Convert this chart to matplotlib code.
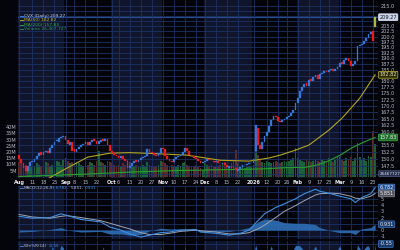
import numpy as np
import matplotlib.pyplot as plt
from matplotlib.transforms import blended_transform_factory

# ---- data (trading-day index 0 = Aug 1 2025, 161 = Mar 24 2026) ----
close = [
    # Aug
    150.0, 148.5, 147.0, 146.0, 147.5, 149.0, 149.5, 150.0, 151.0, 152.0, 151.5,
    152.5, 153.0, 152.0, 154.0, 155.0, 156.0, 156.5, 157.5, 158.0, 158.5,
    # Sep
    157.0, 155.5, 156.0, 153.0, 152.5, 153.5, 154.5, 155.0, 155.5, 156.0, 155.2,
    156.3, 157.0, 156.5, 155.5, 156.5, 157.0, 156.5, 157.2, 155.0, 153.0,
    # Oct
    152.0, 151.5, 151.0, 150.5, 151.0, 150.0, 149.5, 147.0, 147.5, 148.5, 149.5,
    149.0, 149.8, 150.5, 150.8, 151.0, 153.5, 152.5, 152.0, 151.5, 151.0, 152.0, 154.0,
    # Nov
    153.5, 151.0, 150.2, 149.5, 149.0, 150.0, 150.7, 151.0, 151.4, 152.5, 153.9,
    153.0, 151.4, 151.0, 150.3, 150.0, 149.5, 148.6, 149.0,
    # Dec
    149.5, 150.0, 149.7, 149.5, 149.0, 149.3, 148.8, 148.5, 148.6, 148.0, 147.3,
    147.5, 147.0, 146.8, 146.3, 146.5, 147.3, 147.8, 148.0, 148.3, 148.5, 148.6,
    # Jan
    150.0, 162.5, 155.0, 153.5, 156.0, 158.5, 160.0, 162.0, 164.5, 166.0, 165.5,
    164.0, 163.5, 164.5, 165.0, 165.5, 166.0, 167.0, 168.5, 171.0,
    # Feb
    173.0, 176.0, 177.5, 179.0, 178.0, 180.5, 180.0, 182.0, 182.7, 181.0, 183.0,
    183.6, 184.5, 184.0, 185.0, 185.5, 184.5, 185.5, 186.0,
    # Mar
    188.0, 187.5, 189.5, 190.0, 189.0, 186.6, 187.5, 189.0, 195.5, 196.0, 196.5,
    198.0, 199.5, 201.0, 202.0, 198.0, 209.27,
]
open_ = [
    151.5, 150.0, 148.5, 147.5, 146.0, 147.5, 149.0, 149.0, 150.0, 151.0, 152.5,
    151.5, 152.5, 153.0, 152.0, 154.0, 155.0, 156.5, 156.0, 157.5, 158.0,
    158.5, 157.0, 155.0, 156.0, 153.5, 152.5, 153.5, 154.5, 155.0, 155.5, 156.2,
    155.2, 156.3, 157.2, 156.5, 155.5, 156.3, 157.2, 156.5, 157.2, 155.0,
    153.0, 152.0, 151.5, 151.0, 150.5, 151.0, 150.0, 149.5, 147.0, 147.5, 148.5,
    149.8, 149.0, 149.8, 150.5, 150.8, 151.0, 153.5, 152.5, 152.0, 151.5, 151.0, 152.0,
    154.0, 153.5, 151.0, 150.2, 149.5, 149.0, 150.0, 150.7, 151.0, 151.4, 152.5,
    153.9, 153.0, 151.4, 151.0, 150.3, 150.0, 149.5, 148.6,
    149.0, 149.5, 150.0, 149.7, 149.5, 149.0, 149.3, 148.8, 148.2, 148.6, 148.0,
    147.0, 147.5, 147.2, 146.8, 146.0, 146.5, 147.3, 147.8, 148.0, 148.2, 148.5,
    148.6, 153.0, 161.5, 155.0, 153.5, 156.0, 158.5, 160.0, 162.0, 164.5, 166.0,
    165.5, 164.0, 163.5, 164.5, 165.0, 165.5, 166.0, 167.0, 168.5,
    171.0, 173.0, 176.0, 177.5, 179.5, 178.0, 181.0, 180.0, 182.0, 182.7, 181.0,
    183.0, 183.6, 184.5, 184.0, 185.0, 185.5, 184.5, 185.5,
    186.0, 188.5, 187.5, 189.5, 190.0, 189.0, 186.6, 187.5, 189.0, 195.5, 196.0,
    196.5, 198.0, 199.5, 201.0, 202.5, 204.5,
]
volume_m = [
    12, 14, 11, 10, 9, 10, 8, 9, 11, 10, 9, 10, 12, 11, 9, 10, 11, 13, 12, 10, 14,
    15, 13, 11, 12, 16, 12, 11, 10, 9, 11, 10, 12, 11, 10, 13, 21, 12, 11, 10, 13, 12,
    11, 10, 9, 10, 9, 11, 10, 14, 12, 10, 9, 10, 9, 8, 10, 9, 12, 10, 9, 8, 9, 10, 13,
    12, 11, 10, 9, 10, 9, 8, 10, 9, 11, 12, 10, 9, 8, 9, 10, 8, 7, 6,
    11, 10, 9, 10, 9, 8, 9, 10, 11, 12, 10, 9, 11, 13, 22, 11, 9, 8, 7, 8, 9, 8,
    10, 24, 18, 14, 12, 11, 13, 12, 11, 12, 13, 12, 11, 12, 13, 12, 13, 14, 15, 23,
    15, 14, 13, 12, 14, 13, 12, 13, 14, 13, 12, 14, 13, 12, 15, 13, 12, 14, 16,
    16, 14, 13, 15, 14, 16, 13, 15, 27, 16, 14, 15, 13, 17, 16, 37, 26.47,
]

ma50_idx = [0, 8, 20, 31, 41, 50, 60, 76, 91, 104, 113, 118, 125, 131, 140, 146, 154, 161]
ma50 = [139.0, 141.1, 146.2, 150.7, 152.1, 152.3, 152.0, 151.4, 149.6, 149.3, 150.4,
        151.4, 153.2, 155.0, 160.5, 165.1, 173.0, 182.82]
ma200_idx = [0, 30, 50, 70, 90, 110, 120, 130, 135, 140, 145, 150, 155, 161]
ma200 = [144.0, 144.8, 145.5, 146.0, 146.3, 146.6, 147.0, 147.2, 148.0, 149.4, 151.3,
         153.8, 155.8, 157.83]

macd_idx = [0, 6, 14, 19, 22, 28, 37, 41, 46, 50, 55, 59, 64, 68, 73, 80, 82, 89, 95,
            100, 104, 108, 111, 116, 120, 125, 129, 134, 136, 141, 145, 150, 152, 155, 159, 161]
macd = [2.2, 1.9, 2.0, 2.6, 2.3, 1.7, 1.3, 0.5, 0.0, -0.6, -1.1, -0.8, -0.4, -0.3, 0.0,
        0.1, -0.3, -0.5, -0.8, -0.5, 0.0, 1.5, 2.6, 3.6, 4.2, 5.0, 5.8, 6.5, 6.2, 5.8,
        5.4, 5.0, 4.4, 5.2, 5.8, 6.782]
signal = [2.5, 2.1, 1.9, 2.2, 2.3, 2.0, 1.5, 1.1, 0.6, 0.2, -0.4, -0.7, -0.7, -0.5, -0.2,
          0.0, -0.1, -0.3, -0.6, -0.6, -0.4, 0.2, 0.8, 2.0, 3.0, 3.9, 4.7, 5.6, 5.8, 5.9,
          5.8, 5.4, 5.1, 5.0, 5.4, 5.851]
hist = [-0.3, -0.2, 0.1, 0.4, 0.0, -0.3, -0.2, -0.6, -0.6, -0.8, -0.7, -0.1, 0.3, 0.2,
        0.2, 0.1, -0.2, -0.2, -0.2, 0.1, 0.4, 1.3, 1.8, 1.6, 1.2, 1.1, 1.1, 0.9, 0.4,
        -0.1, -0.4, -0.4, -0.7, 0.2, 0.4, 0.931]

wr_idx = [0, 13, 15, 17, 19, 20, 22, 36, 38, 40, 62, 64, 66, 73, 75, 77, 105, 107, 109,
          112, 114, 116, 123, 125, 127, 129, 132, 134, 136, 143, 145, 147, 152, 153, 155,
          157, 158, 160, 161]
wr = [-60, -40, -5, -30, -3, -8, -50, -40, -6, -45, -50, -7, -50, -40, -8, -45, -40,
      -2, -40, -30, -4, -35, -20, -3, -4, -15, -20, -4, -30, -20, -3, -35, -30, -2, -15,
      -5, -4, -30, -0.55]

tick_idx = [0, 6, 11, 16, 21, 25, 30, 35, 42, 45, 50, 55, 60, 65, 70, 75, 80, 84, 89, 94,
            99, 106, 112, 117, 121, 126, 131, 136, 140, 145, 150, 155, 160]
tick_lbl = ['Aug', '11', '18', '25', 'Sep', '8', '15', '22', 'Oct', '6', '13', '20', '27',
            'Nov', '10', '17', '24', 'Dec', '8', '15', '22', '2026', '12', '20', '26',
            'Feb', '9', '17', '23', 'Mar', '9', '16', '23']
months = ['Aug', 'Sep', 'Oct', 'Nov', 'Dec', 'Jan', 'Feb', 'Mar']
month_start = [0, 21, 42, 65, 84, 106, 126, 145]

# ---- layout ----
BG = '#04050a'
NAVY = '#10152c'
GRID = '#1b3163'
TXT = '#b8bcc8'
W, H = 400, 250


def box(x0, y0, x1, y1):
    return [x0 / W, 1 - y1 / H, (x1 - x0) / W, (y1 - y0) / H]


fig = plt.figure(figsize=(4, 2.5), dpi=100)
fig.patch.set_facecolor(BG)
renderer = fig.canvas.get_renderer()

axv = fig.add_axes(box(18, 0, 378, 178))
ax = fig.add_axes(box(18, 0, 378, 178), sharex=axv)
axm = fig.add_axes(box(18, 186, 378, 239), sharex=axv)
axw = fig.add_axes(box(18, 241, 378, 300), sharex=axv)

x = np.arange(len(close))
xlim = (-0.5, 162.3)
bounds = month_start + [len(close)]

for a in (axv, axm, axw):
    a.set_facecolor(BG)
    for k in range(len(months)):
        if k % 2 == 0:
            a.axvspan(bounds[k] - 0.5, bounds[k + 1] - 0.5, color=NAVY, lw=0, zorder=0)
ax.set_facecolor('none')

for a in (axv, ax, axm, axw):
    for s in a.spines.values():
        s.set_visible(False)
    a.set_xlim(*xlim)
    a.tick_params(length=0)

# volume
vcol = ['#1d6a3c' if c >= o else '#6a2d2d' for o, c in zip(open_, close)]
axv.bar(x, volume_m, width=0.8, color=vcol, alpha=0.9, zorder=2)
axv.set_ylim(-0.8, 141.6)
axv.set_yticks(range(5, 45, 5))
axv.set_yticklabels([f'{v}M' for v in range(5, 45, 5)])
axv.tick_params(axis='y', labelsize=3.6, colors=TXT, pad=1)
axv.tick_params(axis='x', labelbottom=False)

# price
ax.set_yscale('log')
ax.set_ylim(143.5, 217.9)
ax.yaxis.tick_right()
pt = np.arange(145.0, 217.5, 2.5)
hidden = {145.0, 157.5, 182.5, 207.5, 210.0, 212.5}
ax.set_yticks(pt)
ax.set_yticklabels(['' if p in hidden else f'{p:.1f}' for p in pt])
ax.yaxis.set_minor_locator(plt.NullLocator())
ax.tick_params(axis='y', labelsize=3.6, colors=TXT, pad=2)
ax.grid(True, color=GRID, lw=0.6, zorder=1)
ax.axhline(close[-1], color='#2d4d92', lw=0.8, zorder=1)

ccol = ['#3577d8' if c >= o else '#f01818' for o, c in zip(open_, close)]
ccol[-1] = '#a8b84a'
body = [c - o if abs(c - o) > 0.25 else 0.25 for o, c in zip(open_, close)]
ax.bar(x, body, bottom=open_, width=0.8, color=ccol, edgecolor=ccol, lw=0.2, zorder=4)

ax.plot(ma50_idx, ma50, color='#b5a51e', lw=0.8, zorder=3)
ax.plot(ma200_idx, ma200, color='#2aa02a', lw=0.8, zorder=3)

ax.set_xticks(tick_idx)
ax.set_xticklabels(tick_lbl)
ax.tick_params(axis='x', labelsize=3.6, colors=TXT, pad=1.2)
for lab in ax.get_xticklabels():
    if not lab.get_text().isdigit() or lab.get_text() == '2026':
        lab.set_fontweight('bold')
        lab.set_color('#e8eaf0')


def legend_row(y, parts, line_color, fs=3.2):
    # parts: list of (text, colour) placed one after another
    yf = 1 - y / H
    fig.lines.append(plt.Line2D([19.5 / W, 23 / W], [yf, yf], color=line_color, lw=0.6,
                                transform=fig.transFigure))
    xpix = 24.0
    for s, c in parts:
        t = fig.text(xpix / W, yf, s, color=c, fontsize=fs, va='center')
        xpix += t.get_window_extent(renderer).width + 1.2


legend_row(16, [('CVX (Daily) 209.27', '#c8cede')], '#3f8fe0')
legend_row(20.3, [('MA(50) 182.82', '#c8b828')], '#c8b828')
legend_row(24.6, [('MA(200) 157.83', '#3cb043')], '#3cb043')
legend_row(28.9, [('Volume 26,467,727', '#2e9a5a')], '#2e9a5a')

# right-hand value boxes
tr = blended_transform_factory(ax.transAxes, ax.transData)


def tag(a, y, s, fc, ec, tc, trans, fs=3.6):
    a.text(1.004, y, s, transform=trans, fontsize=fs, color=tc, va='center', ha='left',
           bbox=dict(boxstyle='round,pad=0.18', fc=fc, ec=ec, lw=0.5), zorder=10, clip_on=False)


tag(ax, 209.27, '209.27', '#c9d2e6', '#e0e6f4', '#10162a', tr)
tag(ax, 182.82, '182.82', '#2a2a0c', '#c8b828', '#e8e4a8', tr)
tag(ax, 157.83, '157.83', '#1f6e2c', '#3cb043', '#f0f0f0', tr)
tag(ax, 145.0, '26467727', '#26304e', '#5a6a90', '#e0e4ee', tr, fs=3.0)

# MACD panel
axm.fill_between(macd_idx, 0, hist, color='#2e6fb6', alpha=0.9, lw=0, zorder=2)
axm.plot(macd_idx, signal, color='#a0a4ae', lw=0.7, zorder=3)
axm.plot(macd_idx, macd, color='#3f8fe0', lw=0.8, zorder=4)
axm.set_ylim(-1.41, 7.03)
axm.yaxis.tick_right()
axm.set_yticks(range(-1, 8))
axm.set_yticklabels(['-1', '0', '', '2', '3', '4', '5', '', ''])
axm.tick_params(axis='y', labelsize=3.6, colors=TXT, pad=2)
axm.tick_params(axis='x', labelbottom=False)
axm.set_xticks(tick_idx)
axm.grid(True, color=GRID, lw=0.6, zorder=1)
trm = blended_transform_factory(axm.transAxes, axm.transData)
tag(axm, 6.782, '6.782', '#1f4f94', '#4a86d0', '#f0f0f0', trm)
tag(axm, 5.851, '5.851', '#50545e', '#8a8e98', '#f0f0f0', trm)
tag(axm, 0.931, '0.931', '#1a3a6a', '#3f76c0', '#f0f0f0', trm)
legend_row(188, [('MACD(12,26,9)', TXT), ('6.782,', '#4a90e0'), ('5.851,', '#c0c4cc'),
                 ('0.931', '#4a90e0')], '#4a90e0', fs=3.0)

# Williams %R panel (cut off at bottom)
axw.fill_between(wr_idx, -105, wr, color='#2e6fb6', lw=0, zorder=2)
axw.set_ylim(-105, 5)
axw.set_yticks([0, -20])
axw.set_yticklabels([])
axw.set_xticks(tick_idx)
axw.tick_params(axis='x', labelbottom=False)
axw.grid(True, color=GRID, lw=0.6, zorder=1)
trw = blended_transform_factory(axw.transAxes, axw.transData)
tag(axw, -0.55, '-0.55', '#1a3a6a', '#3f76c0', '#f0f0f0', trw)
legend_row(246, [('Wm%R(14)', TXT), ('-0.55', '#4a90e0')], '#4a90e0', fs=3.0)

fig.savefig('out.png', dpi=100, facecolor=BG)
